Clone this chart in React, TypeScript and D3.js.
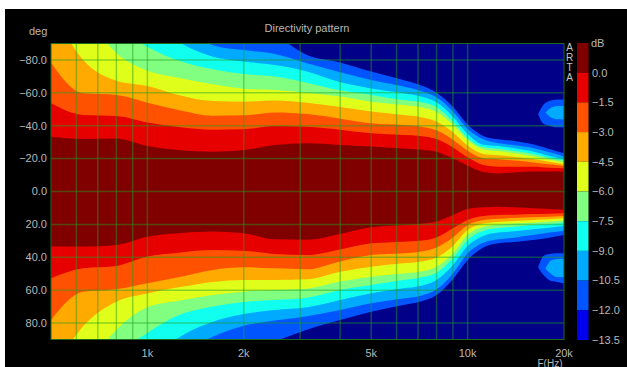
import * as d3 from 'd3'

// frequency points (Hz) at which the contour edges were read
const freqs = [500, 630, 800, 1000, 1250, 1600, 2000, 2500, 3150, 4000, 5000, 6300, 7100, 8000, 9000, 10000, 11200, 12500, 14000, 16000, 18000, 20000]

// angle (deg) of each dB contour on the negative side
const top0 = [-33.3, -31.9, -32.3, -27.7, -25.2, -24.2, -25.2, -28.3, -29.3, -28.3, -27.3, -26.2, -25.6, -24.2, -20.2, -15.7, -11.9, -11.0, -11.5, -12.1, -12.1, -12.1]
const top1_5 = [-53.6, -46.5, -45.9, -41.9, -39.2, -37.6, -37.8, -39.8, -39.4, -37.6, -35.4, -34.4, -33.8, -31.9, -26.7, -20.8, -16.1, -15.1, -15.1, -15.1, -14.5, -14.1]
const top3 = [-78.3, -59.7, -58.7, -54.0, -49.6, -46.1, -46.3, -48.1, -47.1, -44.3, -41.5, -40.4, -39.6, -37.2, -31.5, -24.8, -20.2, -19.6, -18.8, -17.7, -16.5, -15.5]
const top4_5 = [-112, -80, -67.4, -64.2, -58.7, -55.0, -54.6, -55.4, -54.0, -51.4, -48.6, -46.5, -45.3, -42.5, -36.0, -27.9, -22.8, -22.0, -21.0, -19.8, -18.1, -16.5]
const top6 = [-130, -110, -84, -73.5, -69.2, -65.2, -62.5, -61.7, -60.1, -57.7, -54.6, -52.6, -51.4, -48.3, -40.4, -31.1, -25.6, -24.6, -23.2, -21.4, -19.4, -17.7]
const top7_5 = [-140, -125, -100, -88, -79.6, -74.3, -71.4, -70.0, -66.2, -61.5, -58.7, -55.6, -54.4, -51.2, -42.5, -32.5, -26.9, -26.0, -24.6, -22.8, -20.4, -18.8]
const top9 = [-150, -140, -125, -105, -91, -82, -79, -77, -73, -66.4, -62.7, -59.7, -57.9, -54.2, -45.5, -35.0, -28.5, -27.7, -26.3, -24.4, -21.6, -19.6]
const top10_5 = [-160, -150, -140, -120, -100, -89, -86, -83.6, -78, -72.5, -67.8, -63.8, -61.3, -57.3, -48.6, -38.0, -31.7, -29.3, -28.1, -26.5, -23.8, -21.2]
const top12 = [-170, -160, -150, -135, -120, -110, -100, -95, -83, -78.5, -72.9, -67.8, -64.8, -60.1, -51.6, -40.8, -33.8, -31.7, -30.7, -28.7, -25.8, -23.2]

// angle (deg) of each dB contour on the positive side
const bot0 = [33.5, 33.5, 32.5, 27.5, 25.4, 24.4, 25.4, 29.1, 29.3, 25.8, 21.8, 20.4, 19.8, 18.3, 14.3, 10.6, 9.6, 9.2, 9.6, 10.2, 10.6, 11.2]
const bot1_5 = [52.8, 46.7, 45.3, 39.6, 37.2, 35.6, 36.0, 38.0, 38.6, 35.2, 31.5, 30.5, 29.9, 27.9, 22.4, 17.3, 14.9, 14.3, 14.1, 13.7, 13.5, 13.3]
const bot3 = [78.1, 60.9, 59.5, 55.8, 52.2, 47.7, 46.1, 46.7, 47.3, 42.5, 38.6, 37.6, 36.6, 34.0, 27.9, 20.4, 17.3, 16.5, 16.1, 15.7, 15.3, 14.9]
const bot4_5 = [112, 82, 67.0, 62.0, 58.3, 55.0, 53.8, 53.8, 53.4, 48.8, 45.7, 43.7, 42.7, 40.2, 33.1, 23.4, 19.4, 18.5, 17.9, 17.3, 16.9, 16.3]
const bot6 = [130, 110, 84, 70.4, 66.4, 62.9, 60.9, 59.9, 59.1, 54.8, 51.8, 49.8, 48.8, 45.7, 37.6, 26.5, 21.4, 20.2, 19.4, 19.0, 18.3, 17.7]
const bot7_5 = [140, 125, 100, 86, 75.3, 70.0, 67.2, 66.0, 64.6, 59.9, 56.9, 53.8, 52.4, 49.4, 40.6, 29.5, 23.8, 22.2, 21.4, 20.4, 19.8, 19.0]
const bot9 = [150, 140, 125, 105, 89, 79.2, 74.5, 72.1, 70.4, 66.0, 61.9, 58.9, 57.5, 53.8, 44.7, 33.1, 27.0, 25.0, 24.2, 23.0, 22.0, 21.0]
const bot10_5 = [160, 150, 140, 120, 100, 88.3, 81.6, 78.5, 75.9, 72.1, 68.0, 65.0, 63.5, 59.5, 49.8, 37.6, 31.1, 29.1, 28.1, 26.5, 25.0, 23.8]
const bot12 = [170, 160, 150, 135, 120, 110, 100, 91.3, 84.0, 78.1, 73.1, 69.0, 67.0, 63.0, 53.4, 41.7, 34.0, 31.5, 30.7, 29.5, 28.1, 26.5]

// side lobes near 20k
const lobeFreqsOuter = [16600, 17300, 18000, 19000, 20000]
const lobeTopOuterA = [-47, -53, -55, -56, -56]
const lobeTopOuterB = [-47, -41, -40, -39, -39]
const lobeBotOuterA = [46, 39, 38, 37.5, 37.5]
const lobeBotOuterB = [46, 51, 54, 55, 56]
const lobeFreqsInner = [17500, 18200, 19000, 20000]
const lobeTopInnerA = [-48, -51, -52, -52]
const lobeTopInnerB = [-48, -45, -44, -44]
const lobeBotInnerA = [47, 42, 41, 41]
const lobeBotInnerB = [47, 50, 52, 52]

const bandColors = ['#800000', '#e60000', '#ff5200', '#ffaa00', '#dfff1a', '#80ff80', '#10ffee', '#00aaff', '#0055ff']
const barColors = ['#800000', '#e60000', '#ff5200', '#ffaa00', '#dfff1a', '#80ff80', '#10ffee', '#00aaff', '#0055ff', '#0000ee']
const barTicks = [0, -1.5, -3, -4.5, -6, -7.5, -9, -10.5, -12, -13.5]

const gridFreqs = [600, 700, 800, 900, 1000, 2000, 3000, 4000, 5000, 6000, 7000, 8000, 9000, 10000]
const xTicks = [1000, 2000, 5000, 10000, 20000]
const xTickLabels = ['1k', '2k', '5k', '10k', '20k']
const yTicks = [-80, -60, -40, -20, 0, 20, 40, 60, 80]

const topEdges = [top0, top1_5, top3, top4_5, top6, top7_5, top9, top10_5, top12]
const botEdges = [bot0, bot1_5, bot3, bot4_5, bot6, bot7_5, bot9, bot10_5, bot12]

const font = 'Liberation Sans, Arial, sans-serif'
const textColor = '#b8b8b8'

export default function App() {
  const W = 627
  const H = 367
  const left = 51, right = 564, top = 43.5, bottom = 339.5

  const x = d3.scaleLog().domain([500, 20000]).range([left, right])
  const y = d3.scaleLinear().domain([-90, 90]).range([top, bottom])
  const cb = d3.scaleLinear().domain([1.5, -13.5]).range([43, 340])
  const fmt = d3.format('.1f')

  const band = (fs: number[], a: number[], b: number[]) =>
    d3.area<number>()
      .x((_, i) => x(fs[i]))
      .y0((_, i) => y(a[i]))
      .y1((_, i) => y(b[i]))
      .curve(d3.curveMonotoneX)(a) || ''

  const order = d3.range(topEdges.length).reverse()

  return (
    <svg width={W} height={H} style={{ position: 'absolute', left: 0, top: 0, display: 'block' }}>
      <rect width={W} height={H} fill="#fff" />
      <rect x={5} y={9} width={W - 5} height={H - 9} fill="#000" />
      <defs>
        <clipPath id="plot">
          <rect x={left} y={top} width={right - left} height={bottom - top} />
        </clipPath>
      </defs>

      <g clipPath="url(#plot)">
        <rect x={left} y={top} width={right - left} height={bottom - top} fill="#000088" />
        {order.map(k => (
          <path key={k} d={band(freqs, topEdges[k], botEdges[k])} fill={bandColors[k]} />
        ))}
        <path d={band(lobeFreqsOuter, lobeTopOuterA, lobeTopOuterB)} fill="#0055ff" />
        <path d={band(lobeFreqsOuter, lobeBotOuterA, lobeBotOuterB)} fill="#0055ff" />
        <path d={band(lobeFreqsInner, lobeTopInnerA, lobeTopInnerB)} fill="#00aaff" />
        <path d={band(lobeFreqsInner, lobeBotInnerA, lobeBotInnerB)} fill="#00aaff" />

        {gridFreqs.map(f => (
          <line key={f} x1={x(f)} x2={x(f)} y1={top} y2={bottom} stroke="#20a020" strokeOpacity={0.45} strokeWidth={1.5} />
        ))}
        {yTicks.map(t => (
          <line key={t} x1={left} x2={right} y1={y(t)} y2={y(t)} stroke="#20a020" strokeOpacity={0.45} strokeWidth={1.5} />
        ))}
      </g>
      <rect x={left} y={top} width={right - left} height={bottom - top} fill="none" stroke="#1c6a1c" strokeWidth={1} />

      {/* axis labels */}
      <g fontFamily={font} fontSize={11} fill={textColor}>
        <text x={307} y={32} textAnchor="middle">Directivity pattern</text>
        <text x={29} y={35}>deg</text>
        {yTicks.map(t => (
          <text key={t} x={47} y={y(t)} dy="0.35em" textAnchor="end">{fmt(t)}</text>
        ))}
        {xTicks.map((f, i) => (
          <text key={f} x={x(f)} y={357} textAnchor="middle">{xTickLabels[i]}</text>
        ))}
        <text x={550} y={366.5} fontSize={10} textAnchor="middle">F(Hz)</text>
      </g>

      {/* ARTA mark */}
      <g fontFamily={font} fontSize={10} fill="#c8c8c8" textAnchor="middle">
        {'ARTA'.split('').map((c, i) => (
          <text key={i} x={569.5} y={51 + i * 10}>{c}</text>
        ))}
      </g>

      {/* colour bar */}
      {barColors.map((c, i) => (
        <rect key={i} x={577} y={cb(i === 0 ? 1.5 : barTicks[i - 1])} width={11.5}
          height={cb(barTicks[i]) - cb(i === 0 ? 1.5 : barTicks[i - 1])} fill={c} />
      ))}
      <g fontFamily={font} fontSize={11} fill={textColor}>
        <text x={591} y={cb(1.5)} dy="0.35em">dB</text>
        {barTicks.map(t => (
          <text key={t} x={592} y={cb(t)} dy="0.35em">{fmt(t)}</text>
        ))}
      </g>
    </svg>
  )
}
